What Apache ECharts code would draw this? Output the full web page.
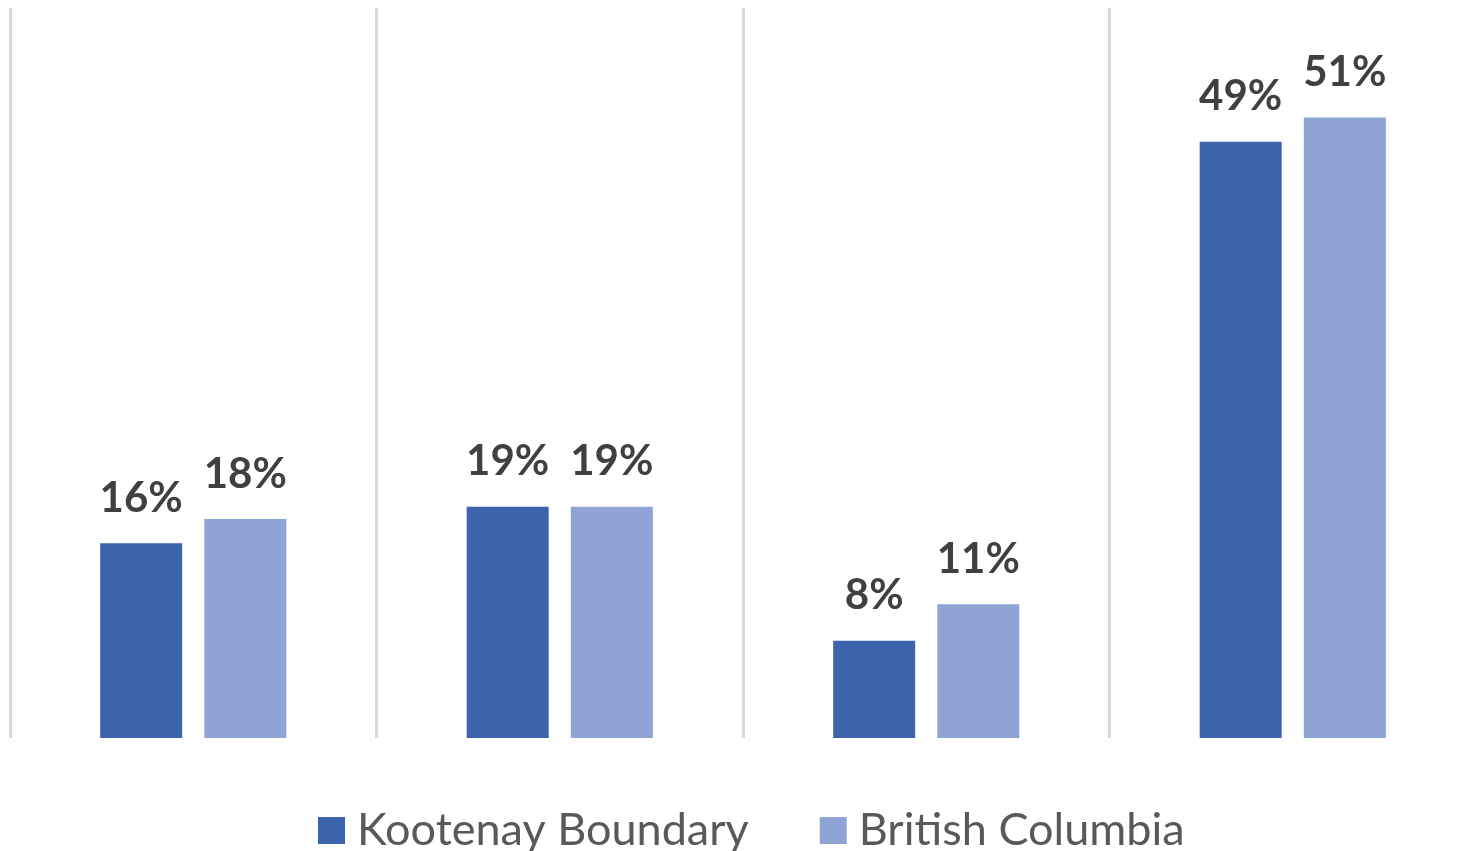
<!DOCTYPE html>
<html>
<head>
<meta charset="utf-8">
<script src="https://cdn.jsdelivr.net/npm/echarts@6/dist/echarts.min.js"></script>
<style>
html,body{margin:0;padding:0;background:#fff;overflow:hidden;width:1467px;height:851px;}
#chart{width:1490px;height:851px;}
</style>
</head>
<body>
<div id="chart"></div>
<script>
const categories = ['Group 1', 'Group 2', 'Group 3', 'Group 4'];
const kootenayBoundary = [16, 19, 8, 49];
const britishColumbia = [18, 19, 11, 51];
const seriesNames = ['Kootenay Boundary', 'British Columbia'];

const chart = echarts.init(document.getElementById('chart'));
const labelStyle = {
  show: true,
  position: 'top',
  distance: 24,
  formatter: p => p.value + '%',
  color: '#404040',
  fontFamily: 'Lato',
  fontWeight: 'bold',
  fontSize: 42
};
chart.setOption({
  animation: false,
  backgroundColor: '#ffffff',
  grid: { left: 10, top: 8, width: 1466, bottom: 113 },
  legend: {
    data: seriesNames,
    top: 803,
    left: 313,
    icon: 'rect',
    itemWidth: 27,
    itemHeight: 27,
    itemGap: 71,
    textStyle: { color: '#595959', fontFamily: 'Lato', fontSize: 45, padding: [0, 0, 0, 7] }
  },
  xAxis: {
    type: 'category',
    data: categories,
    axisLine: { show: false },
    axisTick: { show: false },
    axisLabel: { show: false },
    splitLine: { show: true, lineStyle: { color: '#d9d9d9', width: 3 } }
  },
  yAxis: {
    type: 'value',
    min: 0,
    max: 60,
    show: false,
    splitLine: { show: false }
  },
  series: [
    {
      name: seriesNames[0],
      type: 'bar',
      data: kootenayBoundary,
      barWidth: 82,
      barGap: '27%',
      itemStyle: { color: '#3C64AD' },
      label: labelStyle
    },
    {
      name: seriesNames[1],
      type: 'bar',
      data: britishColumbia,
      barWidth: 82,
      itemStyle: { color: '#8FA3D4' },
      label: labelStyle
    }
  ]
});
</script>
</body>
</html>
